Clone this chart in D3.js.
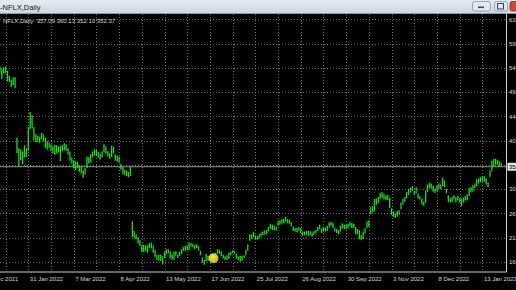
<!DOCTYPE html>
<html>
<head>
<meta charset="utf-8">
<script src="https://cdn.jsdelivr.net/npm/d3@7"></script>
<style>
  html, body { margin: 0; padding: 0; background: #000; overflow: hidden; }
  svg { display: block; }
  text { font-family: "Liberation Sans", Arial, sans-serif; }
</style>
</head>
<body>
<div id="chart"></div>
<script>
// daily bars, first bar is 7 Jan 2022 (index -15), index 0 = 31 Jan 2022
var firstIndex = -15;

var highs = [
  547,543,545,546,538,528,520,525,526,409,388,386,382,394,388,429,
  458,452,429,415,412,410,418,415,409,402,399,396,392,395,394,392,392,395,398,
  396,388,382,370,365,362,362,355,352,345,350,372,371,377,382,386,385,381,378,382,396,392,383,
  378,393,391,376,374,372,358,352,347,345,342,352,247,228,222,216,210,201,201,200,
  201,204,206,200,192,182,182,182,179,189,193,193,189,183,188,189,182,188,193,197,199,
  200,206,205,204,201,203,199,190,177,172,184,180,179,181,182,186,193,192,189,182,179,
  181,186,188,191,190,185,179,180,180,181,192,202,222,222,226,220,218,222,225,227,
  229,230,236,242,240,238,237,247,249,251,252,255,251,250,245,237,234,234,236,234,227,227,228,
  228,228,225,228,230,236,240,233,236,235,238,245,246,244,235,232,230,238,243,240,240,
  242,246,244,242,236,232,230,220,227,234,247,249,275,276,290,291,294,302,303,300,297,
  298,292,272,266,262,267,268,283,290,294,304,310,312,315,305,313,300,296,291,285,306,
  318,322,320,316,310,316,320,318,331,326,310,297,292,294,297,294,296,292,291,293,296,
  299,311,313,317,320,328,330,332,334,334,330,322,345,364,368,368,366,363,360.13
];

var lows = [
  535,522,532,533,517,516,506,510,504,379,352,365,357,370,371,383,
  425,427,403,400,400,398,405,401,389,385,389,383,378,375,378,380,363,383,384,
  383,376,364,358,349,346,350,342,339,331,337,350,358,360,370,374,373,370,366,370,380,378,372,
  368,371,378,364,362,360,346,338,336,334,332,335,216,214,212,204,199,187,188,189,
  186,195,194,186,178,172,171,170,163,176,183,185,175,172,173,180,176,179,183,190,190,
  191,191,198,196,193,195,190,181,167,163,169,170,172,174,176,178,184,184,179,175,172,
  172,174,181,185,184,175,172,169,170,176,181,190,209,212,216,212,211,214,217,220,
  221,222,227,232,230,229,229,238,240,242,243,246,243,242,237,228,227,226,229,224,219,220,221,
  219,220,217,220,223,228,232,224,227,227,228,235,238,234,227,224,222,227,233,231,232,
  233,237,234,234,222,222,212,211,212,224,234,236,260,264,266,279,282,290,292,289,288,
  288,272,259,255,253,256,260,270,279,284,291,297,302,306,298,301,291,289,279,277,282,
  303,311,310,304,301,305,310,309,315,313,301,284,283,284,289,283,287,283,276,283,287,
  287,296,303,304,311,314,320,322,324,323,318,313,333,343,354,356,356,353,352.10
];

var lastBar = [357.09, 360.13, 352.10, 352.37];   // open high low close

var priceTicks = [168.5, 215.4, 262.3, 309.2, 356.1, 403.0, 449.9, 496.8, 543.7, 590.6, 637.5];

var dateTickIdx = [-24, 0, 24, 48, 72, 96, 120, 144, 168, 192, 216, 240];
var dateLabels = ["27 Dec 2021", "31 Jan 2022", "7 Mar 2022", "8 Apr 2022", "13 May 2022",
  "17 Jun 2022", "25 Jul 2022", "26 Aug 2022", "30 Sep 2022", "3 Nov 2022", "8 Dec 2022", "13 Jan 2023"];

var markerIdx = [97.9];
var markerPrice = [175.3];

var W = 516, H = 290;
var plotTop = 14, plotBottom = 271.5, plotRight = 506;

var svg = d3.select("#chart").append("svg")
  .attr("width", W).attr("height", H);

svg.append("rect").attr("width", W).attr("height", H).attr("fill", "#000");

var x = d3.scaleLinear().domain([0, 240]).range([28.3, 28.3 + 240 * 1.892]);
var y = d3.scaleLinear().domain([168.5, 637.5]).range([261.8, 19.3]);

var defs = svg.append("defs");
defs.append("clipPath").attr("id", "plotClip")
  .append("rect").attr("x", 0).attr("y", plotTop)
  .attr("width", plotRight).attr("height", plotBottom - plotTop);

var g = svg.append("g").attr("clip-path", "url(#plotClip)");

// grid
g.selectAll(".hgrid").data(priceTicks).enter().append("line")
  .attr("x1", 0).attr("x2", plotRight)
  .attr("y1", function(d) { return Math.round(y(d)) + 0.5; })
  .attr("y2", function(d) { return Math.round(y(d)) + 0.5; })
  .attr("stroke", "#6e6e6e").attr("stroke-dasharray", "1,2");

g.selectAll(".vgrid").data(d3.range(-12, 241, 12)).enter().append("line")
  .attr("x1", function(d) { return Math.round(x(d)) + 0.5; })
  .attr("x2", function(d) { return Math.round(x(d)) + 0.5; })
  .attr("y1", plotTop).attr("y2", plotBottom)
  .attr("stroke", "#6e6e6e").attr("stroke-dasharray", "1,2");

// bid line
g.append("line")
  .attr("x1", 0).attr("x2", plotRight)
  .attr("y1", y(lastBar[3])).attr("y2", y(lastBar[3]))
  .attr("stroke", "#a8a8a8").attr("stroke-width", 0.9);

// bars
g.selectAll(".bar").data(highs).enter().append("line")
  .attr("x1", function(d, i) { return x(i + firstIndex); })
  .attr("x2", function(d, i) { return x(i + firstIndex); })
  .attr("y1", function(d) { return y(d); })
  .attr("y2", function(d, i) { return y(lows[i]); })
  .attr("stroke", "#20dd20").attr("stroke-width", 1.3);

// marker
var grad = defs.append("radialGradient").attr("id", "ball")
  .attr("cx", "40%").attr("cy", "35%").attr("r", "65%");
grad.append("stop").attr("offset", "0%").attr("stop-color", "#f6e65a");
grad.append("stop").attr("offset", "100%").attr("stop-color", "#c8b014");
g.selectAll(".marker").data(markerIdx).enter().append("circle")
  .attr("cx", function(d) { return x(d); })
  .attr("cy", function(d, i) { return y(markerPrice[i]); })
  .attr("r", 5).attr("fill", "url(#ball)");

// header text
svg.append("text").attr("x", 3).attr("y", 23)
  .attr("font-size", "6px").attr("fill", "#d6d6d6")
  .attr("xml:space", "preserve")
  .text("NFLX,Daily  " + lastBar.map(function(v) { return v.toFixed(2); }).join(" "));

// axis lines
svg.append("line").attr("x1", 0).attr("x2", plotRight + 0.5)
  .attr("y1", plotBottom + 0.5).attr("y2", plotBottom + 0.5)
  .attr("stroke", "#cfcfcf");
svg.append("line").attr("x1", plotRight + 0.5).attr("x2", plotRight + 0.5)
  .attr("y1", plotTop).attr("y2", plotBottom + 0.5)
  .attr("stroke", "#cfcfcf");

// price axis (grid label under the bid label is hidden, as the terminal does)
var yAxis = d3.axisRight(y)
  .tickValues(priceTicks.filter(function(d) { return Math.abs(y(d) - y(lastBar[3])) > 7; }))
  .tickSize(0).tickPadding(3)
  .tickFormat(d3.format(".2f"));
var ya = svg.append("g").attr("transform", "translate(" + plotRight + ",0)").call(yAxis);
ya.select(".domain").remove();
ya.selectAll("text").attr("font-size", "6px").attr("fill", "#d6d6d6")
  .attr("font-family", "Liberation Sans, Arial, sans-serif");

// bid label
var bid = svg.append("g").attr("transform", "translate(" + (plotRight + 1.5) + "," + y(lastBar[3]) + ")");
bid.append("rect").attr("x", 0).attr("y", -4).attr("width", 14).attr("height", 8).attr("fill", "#e4e4e4");
bid.append("text").attr("x", 1.5).attr("dy", "0.35em").attr("font-size", "6px").attr("fill", "#000")
  .text(lastBar[3].toFixed(2));

// date axis
var xAxis = d3.axisBottom(x).tickValues(dateTickIdx).tickSize(0).tickPadding(0)
  .tickFormat(function(d, i) { return dateLabels[i]; });
var xa = svg.append("g").attr("transform", "translate(0," + plotBottom + ")").call(xAxis);
xa.select(".domain").remove();
xa.selectAll("text").attr("font-size", "6px").attr("fill", "#d6d6d6")
  .attr("font-family", "Liberation Sans, Arial, sans-serif")
  .attr("text-anchor", "start").attr("dx", "1").attr("dy", "0").attr("y", 9);

// window title bar
var tg = defs.append("linearGradient").attr("id", "title").attr("x1", 0).attr("x2", 0).attr("y1", 0).attr("y2", 1);
tg.append("stop").attr("offset", "0%").attr("stop-color", "#e6ecf3");
tg.append("stop").attr("offset", "100%").attr("stop-color", "#cdd8e4");
svg.append("rect").attr("x", 0).attr("y", 0).attr("width", W).attr("height", 13).attr("fill", "url(#title)");
svg.append("line").attr("x1", 0).attr("x2", W).attr("y1", 13.5).attr("y2", 13.5).attr("stroke", "#8f9aa8");
svg.append("text").attr("x", 0).attr("y", 9.5).attr("font-size", "7.5px").attr("fill", "#1b1b1b")
  .text("-NFLX,Daily");

var btns = [
  { x: 472, w: 18, fill: "#e2e9f1", stroke: "#8594aa" },
  { x: 494, w: 13, fill: "#e2e9f1", stroke: "#8594aa" },
  { x: 509.5, w: 12, fill: "#c9473b", stroke: "#8e2d25" }
];
svg.selectAll(".btn").data(btns).enter().append("rect")
  .attr("x", function(d) { return d.x + 0.5; }).attr("y", 1.5)
  .attr("width", function(d) { return d.w; }).attr("height", 9.5)
  .attr("rx", 2).attr("fill", function(d) { return d.fill; })
  .attr("stroke", function(d) { return d.stroke; }).attr("stroke-width", 0.8);
svg.append("rect").attr("x", 478).attr("y", 6.5).attr("width", 6).attr("height", 1.6).attr("fill", "#3a4352");
svg.append("rect").attr("x", 497.5).attr("y", 3.5).attr("width", 6).attr("height", 5.5)
  .attr("fill", "none").attr("stroke", "#3a4352").attr("stroke-width", 1);
</script>
</body>
</html>
